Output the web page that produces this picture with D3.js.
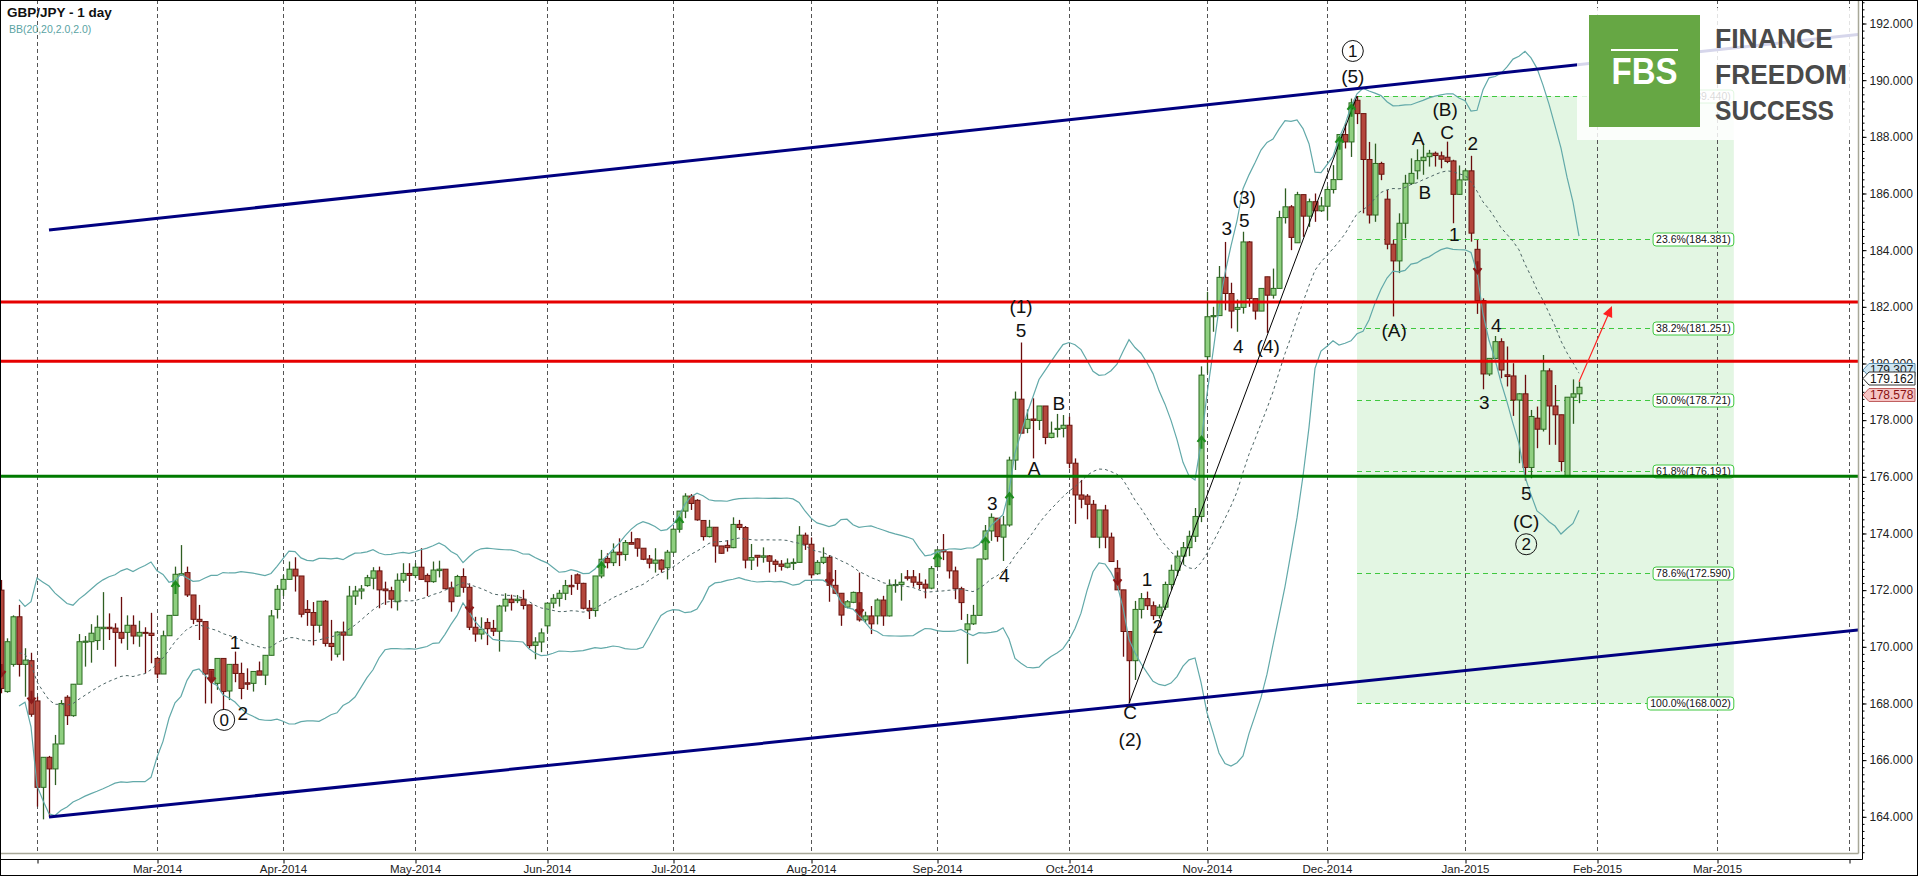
<!DOCTYPE html>
<html><head><meta charset="utf-8">
<script src="https://cdn.jsdelivr.net/npm/d3@7"></script>
<style>
body{margin:0;background:#fff;}
svg{display:block;font-family:"Liberation Sans",Arial,sans-serif;}
</style>
</head><body>
<svg id="chart" width="1918" height="876"></svg>
<script>
// ---------------- DATA ----------------
const firstDay = "2014-01-24";
const calendarEnd = "2015-05-01";
const open = [
172.00,168.42,169.38,171.06,169.38,169.51,168.09,165.04,166.10,165.69,
166.57,168.22,167.57,168.68,170.16,170.18,170.22,170.64,170.69,170.66,
170.51,170.51,170.76,170.38,170.51,170.48,169.59,169.04,170.39,171.11,
172.53,172.62,171.83,170.97,170.89,169.20,168.71,169.59,168.44,169.38,
169.06,168.73,168.71,169.15,169.00,169.70,171.32,172.03,172.38,172.74,
172.50,171.32,171.21,170.76,171.61,170.12,169.74,170.52,170.41,171.79,
171.97,172.16,172.42,172.68,172.04,171.98,171.59,172.35,172.59,172.52,
172.81,172.52,172.30,172.69,172.74,172.08,171.79,172.48,172.10,170.69,
170.45,170.86,170.65,170.55,171.44,171.68,171.63,171.68,171.48,170.05,
170.17,170.74,171.54,171.71,171.89,172.17,172.54,172.24,171.36,171.28,
172.50,173.12,172.97,173.34,173.26,173.68,173.81,173.48,173.10,172.95,
173.06,172.79,173.34,174.15,174.79,175.32,175.17,174.46,173.89,174.22,
173.56,173.58,173.50,174.32,174.21,173.06,173.23,173.16,173.21,173.02,
172.92,172.81,172.95,172.98,173.94,173.62,172.58,172.98,173.16,172.17,
171.89,171.40,171.57,171.91,170.95,171.09,171.09,171.65,171.09,172.16,
172.20,172.47,172.47,172.28,172.21,172.07,172.83,173.42,173.35,172.68,
172.05,170.60,170.81,171.11,173.10,174.09,174.54,173.87,174.30,176.59,
178.74,177.71,178.04,177.99,178.50,177.39,177.67,177.71,177.82,176.48,
175.36,175.32,175.03,173.87,174.83,173.87,172.77,172.01,170.54,169.51,
171.32,171.70,171.45,171.10,171.40,172.20,172.70,173.20,173.50,173.90,
174.60,180.24,181.65,181.69,183.04,182.47,181.91,181.98,184.29,182.29,
181.85,183.06,182.41,182.65,185.15,185.53,184.26,185.96,185.20,185.71,
185.39,185.55,186.14,186.49,188.08,187.82,189.29,188.82,187.20,185.24,
187.06,185.80,184.21,183.62,184.95,186.36,186.80,187.16,187.30,187.42,
187.33,187.28,187.15,185.97,186.48,186.80,184.03,182.22,179.63,180.18,
180.77,179.60,179.56,178.71,178.93,176.33,178.07,177.68,179.74,178.50,
178.19,176.01,178.81,178.93];
const high = [
172.36,170.30,171.11,171.48,169.95,169.79,168.24,166.10,166.15,166.89,
168.12,168.29,168.68,170.45,170.38,170.80,171.11,171.93,171.18,170.83,
171.76,171.11,171.11,170.92,170.69,171.20,169.65,170.57,171.11,172.83,
173.59,172.83,171.83,171.48,170.89,169.20,169.59,169.59,169.38,169.83,
169.44,169.24,169.13,169.48,169.70,171.30,172.18,172.54,173.01,173.16,
172.50,171.65,171.58,171.61,171.65,170.95,170.55,170.89,172.15,172.15,
172.18,172.54,172.81,172.83,172.30,172.12,172.59,172.95,172.95,172.95,
173.48,172.59,173.01,173.04,172.74,172.30,172.54,172.77,172.24,171.06,
171.04,171.01,170.95,171.48,171.89,171.84,171.83,172.01,171.48,170.34,
170.65,171.54,171.86,172.01,172.36,172.54,172.59,172.26,171.65,172.50,
173.42,173.30,173.65,173.83,173.77,174.06,173.83,173.48,173.24,173.48,
173.09,173.42,174.18,174.79,175.42,175.39,175.21,174.46,174.48,174.22,
173.56,173.77,174.57,174.48,174.26,173.63,173.24,173.51,173.24,173.09,
173.06,173.12,173.12,174.26,174.03,173.86,173.06,173.51,173.24,172.71,
171.89,171.65,171.95,172.62,171.24,171.44,171.71,171.80,172.38,172.38,
172.60,172.71,172.71,172.60,172.38,172.85,173.42,173.98,173.35,172.83,
172.12,171.16,171.48,173.10,174.30,174.71,174.54,174.62,176.71,179.01,
180.74,178.38,178.77,178.50,178.50,177.95,178.22,178.18,178.12,176.65,
175.89,175.39,175.18,174.83,175.01,174.03,173.06,172.01,170.54,171.62,
171.90,171.95,171.60,171.50,172.30,172.90,173.40,173.70,174.10,174.90,
179.90,182.53,182.00,183.44,184.29,182.85,182.26,184.65,184.32,182.29,
182.65,183.06,183.35,185.39,186.18,185.59,186.06,185.96,185.82,186.00,
185.88,186.26,187.00,188.08,188.47,189.35,189.44,188.82,187.82,187.76,
187.12,186.13,184.36,185.30,186.66,187.24,187.56,187.77,187.54,187.48,
187.48,187.83,187.19,186.99,186.86,187.33,184.36,182.30,180.18,180.97,
180.89,180.60,180.01,178.95,179.60,178.36,178.48,180.30,179.83,179.24,
178.19,178.81,179.44,179.36];
const low = [
168.36,168.38,169.30,168.95,168.24,167.53,164.36,163.91,164.00,165.12,
166.57,167.24,167.53,168.68,169.30,169.44,169.89,169.89,170.24,169.30,
170.12,169.89,170.09,170.00,169.06,169.42,168.89,169.04,170.39,171.11,
172.53,171.76,170.80,170.24,168.00,168.00,168.48,167.77,168.12,168.75,
168.15,168.48,168.42,169.00,168.65,169.70,171.00,171.79,172.36,171.95,
171.04,170.74,170.05,170.50,170.01,169.51,169.63,169.51,170.41,171.48,
171.68,172.12,172.03,171.36,171.48,171.36,171.28,172.26,171.95,172.42,
172.36,171.79,172.26,172.45,172.03,171.24,171.77,171.91,170.59,170.18,
170.26,170.06,170.38,169.83,171.24,171.28,171.54,171.32,169.95,169.56,
169.81,170.50,171.36,171.42,171.65,171.83,172.01,171.32,170.98,171.06,
172.42,172.77,172.85,172.85,173.04,173.62,173.18,173.06,172.77,172.62,
172.62,172.38,173.30,174.03,174.54,174.83,174.45,173.75,173.86,172.97,
173.28,173.36,173.48,174.12,172.77,172.71,172.83,172.97,172.62,172.65,
172.69,172.77,172.71,172.97,173.42,172.42,172.54,172.92,171.59,171.86,
170.74,171.36,171.54,170.89,170.85,170.45,170.79,170.74,171.07,171.91,
171.63,172.34,172.12,172.03,171.71,172.03,172.83,173.06,172.41,171.68,
170.95,169.40,170.77,171.11,173.06,173.74,173.71,173.03,174.24,176.24,
177.54,177.54,176.65,177.65,177.15,177.36,177.39,177.39,176.30,174.34,
174.89,174.50,173.87,173.48,173.48,173.01,172.01,169.65,168.00,168.83,
171.00,171.30,170.95,171.00,171.30,172.00,172.50,172.90,173.20,173.70,
174.40,179.65,181.12,181.69,181.88,181.24,181.12,181.76,182.00,181.55,
181.85,181.08,182.29,182.65,184.94,184.00,184.26,184.47,184.82,185.00,
185.35,185.06,186.00,186.49,187.59,187.29,188.45,185.30,184.94,185.00,
186.47,184.03,181.66,183.19,184.42,186.30,186.50,186.66,186.95,186.95,
186.89,187.07,184.95,185.95,186.46,184.30,181.75,179.09,179.56,180.15,
179.48,179.19,178.15,176.48,175.87,175.95,177.01,177.60,177.13,177.13,
176.19,176.01,177.87,178.60];
const close = [
168.53,170.18,171.06,169.38,169.53,167.62,165.04,166.10,165.69,166.57,
168.00,167.57,168.68,170.18,170.20,170.48,170.69,170.69,170.64,170.51,
170.30,170.76,170.38,170.51,170.48,170.40,169.04,170.39,171.11,172.56,
172.58,171.83,170.97,170.89,169.04,168.89,169.59,168.42,169.38,169.06,
168.53,168.68,169.13,169.00,169.70,171.09,172.03,172.38,172.74,172.50,
171.15,171.21,170.76,171.61,170.12,170.01,170.52,170.41,171.79,171.97,
172.04,172.44,172.68,172.01,171.98,171.68,172.35,172.59,172.52,172.81,
172.38,172.30,172.71,172.74,172.05,171.59,172.48,172.10,170.69,170.45,
170.62,170.64,170.55,171.44,171.68,171.56,171.68,171.46,170.04,170.17,
170.49,171.54,171.71,171.89,172.16,172.12,172.24,171.36,171.28,172.50,
173.09,172.97,173.34,173.25,173.68,173.62,173.48,173.09,172.95,173.06,
172.74,173.34,174.15,174.79,175.32,175.06,174.48,173.89,174.22,173.56,
173.30,173.50,174.32,174.21,173.06,173.15,173.16,173.21,173.02,172.91,
172.84,172.95,172.98,173.94,173.62,172.54,172.98,173.16,172.17,171.89,
171.12,171.59,171.92,170.95,171.09,170.81,171.65,171.09,172.17,172.20,
172.28,172.42,172.28,172.20,172.07,172.76,173.42,173.35,172.68,172.05,
171.56,170.81,171.11,173.10,174.09,174.57,173.89,174.30,176.59,178.74,
177.54,178.03,177.99,178.50,177.39,177.54,177.71,177.82,176.48,175.36,
175.21,175.03,173.87,174.83,173.87,173.01,172.01,170.54,169.51,171.32,
171.70,171.45,171.10,171.40,172.20,172.70,173.20,173.50,173.90,174.60,
179.59,181.65,181.69,183.04,182.47,181.85,181.98,184.29,182.29,181.85,
182.65,182.41,182.65,185.15,185.53,184.45,185.96,185.20,185.71,185.39,
185.56,186.14,186.49,188.08,187.82,189.20,188.82,187.20,185.24,187.06,
186.68,184.21,183.62,184.95,186.36,186.71,187.16,187.28,187.42,187.34,
187.21,187.13,185.97,186.48,186.80,184.60,182.22,179.63,180.18,180.77,
179.77,179.54,178.71,178.93,176.33,178.13,177.68,179.74,178.50,178.19,
176.54,178.81,178.93,179.16];

const bbPeriod = 20, bbDeviations = 2.0;
const monthLabels = ["Mar-2014","Apr-2014","May-2014","Jun-2014","Jul-2014","Aug-2014","Sep-2014",
  "Oct-2014","Nov-2014","Dec-2014","Jan-2015","Feb-2015","Mar-2015"];
const priceTicks = d3.range(164, 193, 2);

const resistanceLevels = [182.17, 180.08];
const supportLevels = [176.02];
const channelUpper = [[8, 184.71], [309.8, 191.62]];   // [bar index, price]
const channelLower = [[8, 163.99], [309.8, 170.60]];
const impulseLine = [[188, 168.002], [226, 189.44]];
const projection = [[263, 179.36], [268.5, 182.03]];

const fibHigh = 189.44, fibLow = 168.002, fibStartBar = 226, fibEndBar = 288.8;
const fibRatios = [0, 0.236, 0.382, 0.5, 0.618, 0.786, 1];

const upSignals = [[29,172.08],[100,172.76],[113,174.34],[156,173.06],[164,173.63],[168,175.21],[200,177.2],[223,187.76],[225,188.92]];
const downSignals = [[0,169.18],[5,168.24],[35,168.95],[78,171.45],[138,172.42],[143,171.36],[186,172.42],[246,183.4]];

// [bar index, price, text, circled]
const waveLabels = [
 [39,170.17,"1",false],[37.2,167.42,"0",true],[40.3,167.67,"2",false],
 [170,182.03,"(1)",false],[170,181.18,"5",false],[176.3,178.6,"B",false],[172.2,176.3,"A",false],
 [165.2,175.07,"3",false],[167.2,172.53,"4",false],
 [191,172.4,"1",false],[192.8,170.73,"2",false],[188.2,167.7,"C",false],[188.2,166.75,"(2)",false],
 [204.3,184.78,"3",false],[207.2,185.87,"(3)",false],[207.2,185.06,"5",false],[206.2,180.62,"4",false],[211.2,180.62,"(4)",false],
 [225.3,191.03,"1",true],[225.3,190.15,"(5)",false],
 [240.7,188.98,"(B)",false],[236.2,187.96,"A",false],[241,188.17,"C",false],[245.3,187.78,"2",false],
 [237.3,186.05,"B",false],[242.2,184.57,"1",false],[232.2,181.18,"(A)",false],
 [249.2,181.36,"4",false],[247.2,178.64,"3",false],
 [254.2,175.43,"5",false],[254.2,174.45,"(C)",false],[254.2,173.62,"2",true]
];
const priceTags = [["179.307","#cfe6f2","#5a8fb0","#222"],["179.162","#ffffff","#333333","#111"],["178.578","#f6c4c4","#c06060","#8a1010"]];

// ---------------- LAYOUT ----------------
const W = 1918, H = 876;
const plotRight = 1858, axisX = 1862, plotBottom = 853, axisY = 859;
const svg = d3.select("#chart");
const x = d3.scaleLinear().domain([0, 309]).range([1, 1855]);
const y = d3.scaleLinear().domain([164, 192]).range([816.8, 23.5]);

const parseDate = d3.timeParse("%Y-%m-%d");
const calendar = d3.timeDay.range(parseDate(firstDay), parseDate(calendarEnd)).filter(d => d.getDay() % 6 !== 0);
const fmtMonth = d3.timeFormat("%b-%Y");
const monthStarts = [];
calendar.forEach((d, k) => { if (k > 0 && d.getMonth() !== calendar[k-1].getMonth()) monthStarts.push(k); });

svg.append("rect").attr("width", W).attr("height", H).attr("fill", "#fff");
svg.append("defs").append("clipPath").attr("id", "pc").append("rect")
  .attr("x", 0).attr("y", 0).attr("width", plotRight).attr("height", plotBottom);
const plot = svg.append("g").attr("clip-path", "url(#pc)");

// Fibonacci zone
plot.append("rect").attr("x", x(fibStartBar)).attr("y", y(fibHigh))
  .attr("width", x(fibEndBar) - x(fibStartBar)).attr("height", y(fibLow) - y(fibHigh))
  .attr("fill", "#e3f6e3");

// month gridlines
plot.append("g").selectAll("line").data(monthStarts).join("line")
  .attr("x1", k => Math.round(x(k)) + 0.5).attr("x2", k => Math.round(x(k)) + 0.5)
  .attr("y1", 0).attr("y2", plotBottom)
  .attr("stroke", "#555").attr("stroke-width", 1).attr("stroke-dasharray", "4,3");

// Fibonacci levels
const fibG = plot.append("g");
fibRatios.forEach(r => {
  const v = fibHigh - r * (fibHigh - fibLow);
  const yy = Math.round(y(v)) + 0.5;
  const label = (r * 100).toFixed(1) + "%(" + v.toFixed(3) + ")";
  const t = fibG.append("text").attr("x", x(fibEndBar) - 3).attr("y", yy).attr("dy", "0.35em")
    .attr("text-anchor", "end").attr("font-size", 10.5).attr("fill", "#111").text(label);
  const tw = t.node().getComputedTextLength();
  const bx = x(fibEndBar) - tw - 6;
  fibG.insert("rect", "text").attr("x", bx).attr("y", yy - 6.5).attr("width", tw + 6).attr("height", 13)
    .attr("rx", 3).attr("fill", "#fff").attr("stroke", "#3fc83f").attr("stroke-width", 1);
  fibG.insert("line", "rect").attr("x1", x(fibStartBar)).attr("x2", bx).attr("y1", yy).attr("y2", yy)
    .attr("stroke", "#3fc83f").attr("stroke-width", 1).attr("stroke-dasharray", "5,4");
});

// candles
const idx = d3.range(close.length);
const cg = plot.append("g");
idx.forEach(k => {
  const o = open[k], c = close[k];
  const h = Math.max(high[k], o, c), l = Math.min(low[k], o, c);
  const up = c >= o;
  const cx = Math.round(x(k));
  cg.append("line").attr("x1", cx + 0.5).attr("x2", cx + 0.5).attr("y1", y(h)).attr("y2", y(l))
    .attr("stroke", up ? "#2f5e22" : "#6a0c0c").attr("stroke-width", 1.3);
  const y0 = Math.min(y(o), y(c)), hh = Math.max(1, Math.abs(y(o) - y(c)));
  cg.append("rect").attr("x", cx - 2).attr("y", y0).attr("width", 5).attr("height", hh)
    .attr("fill", up ? "#8fcf80" : "#b4473c").attr("stroke", up ? "#2b6b20" : "#6a1510").attr("stroke-width", 1);
});

// Bollinger bands
const bb = idx.map(k => {
  const w = close.slice(Math.max(0, k - bbPeriod + 1), k + 1);
  const m = d3.mean(w), sd = Math.sqrt(d3.mean(w, v => (v - m) * (v - m)));
  return {k, m, u: m + bbDeviations * sd, l: m - bbDeviations * sd};
}).filter(d => d.k >= 3);
const line = acc => d3.line().x(d => x(d.k)).y(d => y(acc(d))).curve(d3.curveLinear);
plot.append("path").datum(bb).attr("d", line(d => d.u)).attr("fill", "none").attr("stroke", "#62a9a9").attr("stroke-width", 1.2);
plot.append("path").datum(bb).attr("d", line(d => d.l)).attr("fill", "none").attr("stroke", "#62a9a9").attr("stroke-width", 1.2);
plot.append("path").datum(bb).attr("d", line(d => d.m)).attr("fill", "none").attr("stroke", "#4d6565").attr("stroke-width", 1).attr("stroke-dasharray", "3,3");

// horizontal levels
resistanceLevels.forEach(v => plot.append("line").attr("x1", 0).attr("x2", plotRight).attr("y1", y(v)).attr("y2", y(v))
  .attr("stroke", "#e60000").attr("stroke-width", 3));
supportLevels.forEach(v => plot.append("line").attr("x1", 0).attr("x2", plotRight).attr("y1", y(v)).attr("y2", y(v))
  .attr("stroke", "#007a00").attr("stroke-width", 3));

// channel
[channelUpper, channelLower].forEach(c => plot.append("line")
  .attr("x1", x(c[0][0])).attr("y1", y(c[0][1])).attr("x2", x(c[1][0])).attr("y2", y(c[1][1]))
  .attr("stroke", "#000080").attr("stroke-width", 3));

// impulse line
plot.append("line").attr("x1", x(impulseLine[0][0])).attr("y1", y(impulseLine[0][1]))
  .attr("x2", x(impulseLine[1][0])).attr("y2", y(impulseLine[1][1])).attr("stroke", "#000").attr("stroke-width", 1);

// signal arrows
upSignals.forEach(([k, v]) => {
  const cx = Math.round(x(k)) + 0.5, cy = y(v);
  plot.append("path").attr("d", `M${cx},${cy+6}L${cx},${cy-5}M${cx-4},${cy-1}L${cx},${cy-6}L${cx+4},${cy-1}`)
    .attr("fill", "none").attr("stroke", "#1e8c1e").attr("stroke-width", 2.2);
});
downSignals.forEach(([k, v]) => {
  const cx = Math.round(x(k)) + 0.5, cy = y(v);
  plot.append("path").attr("d", `M${cx},${cy-6}L${cx},${cy+5}M${cx-4},${cy+1}L${cx},${cy+6}L${cx+4},${cy+1}`)
    .attr("fill", "none").attr("stroke", "#8b1a1a").attr("stroke-width", 2.2);
});

// wave labels
waveLabels.forEach(([k, v, t, circ]) => {
  const cx = x(k), cy = y(v);
  if (circ) {
    plot.append("circle").attr("cx", cx).attr("cy", cy).attr("r", 10.5).attr("fill", "none").attr("stroke", "#111").attr("stroke-width", 1);
    plot.append("text").attr("x", cx).attr("y", cy).attr("dy", "0.36em").attr("text-anchor", "middle")
      .attr("font-size", 17).attr("fill", "#111").text(t);
  } else {
    plot.append("text").attr("x", cx).attr("y", cy).attr("dy", "0.36em").attr("text-anchor", "middle")
      .attr("font-size", 19).attr("fill", "#111").text(t);
  }
});

// projection arrow
{
  const [a, b] = projection;
  const x1 = x(a[0]), y1 = y(a[1]), x2 = x(b[0]), y2 = y(b[1]);
  const ang = Math.atan2(y2 - y1, x2 - x1);
  plot.append("line").attr("x1", x1).attr("y1", y1).attr("x2", x2 - 6 * Math.cos(ang)).attr("y2", y2 - 6 * Math.sin(ang))
    .attr("stroke", "#ff2020").attr("stroke-width", 1.2);
  const hl = 11, hw = 5;
  const bxp = x2 - hl * Math.cos(ang), byp = y2 - hl * Math.sin(ang);
  plot.append("path").attr("d", `M${x2},${y2}L${bxp + hw*Math.sin(ang)},${byp - hw*Math.cos(ang)}L${bxp - hw*Math.sin(ang)},${byp + hw*Math.cos(ang)}Z`)
    .attr("fill", "#ff2020");
}

// logo panel
plot.append("rect").attr("x", 1577).attr("y", 8).attr("width", 290).attr("height", 132).attr("fill", "#fff").attr("opacity", 0.84);
svg.append("rect").attr("x", 1589).attr("y", 15).attr("width", 111).attr("height", 112).attr("fill", "#66a744");
svg.append("text").attr("x", 1644.5).attr("y", 84).attr("text-anchor", "middle").attr("font-size", 36)
  .attr("font-weight", "bold").attr("fill", "#fff").attr("textLength", 66).attr("lengthAdjust", "spacingAndGlyphs").text("FBS");
svg.append("line").attr("x1", 1611).attr("x2", 1678).attr("y1", 50).attr("y2", 50).attr("stroke", "#fff").attr("stroke-width", 2);
["FINANCE", "FREEDOM", "SUCCESS"].forEach((t, i) => svg.append("text").attr("x", 1715).attr("y", 48 + i * 36)
  .attr("font-size", 27).attr("font-weight", "bold").attr("fill", "#4a4a4a")
  .attr("textLength", i === 1 ? 132 : (i === 0 ? 118 : 119)).attr("lengthAdjust", "spacingAndGlyphs").text(t));

// frame & axes
svg.append("line").attr("x1", plotRight + 0.5).attr("x2", plotRight + 0.5).attr("y1", 0).attr("y2", plotBottom + 0.5).attr("stroke", "#a8a898").attr("stroke-width", 1.5);
svg.append("line").attr("x1", 0).attr("x2", plotRight + 0.5).attr("y1", plotBottom + 0.5).attr("y2", plotBottom + 0.5).attr("stroke", "#a8a898").attr("stroke-width", 1.5);
svg.append("line").attr("x1", axisX + 0.5).attr("x2", axisX + 0.5).attr("y1", 0).attr("y2", axisY + 0.5).attr("stroke", "#000");
svg.append("line").attr("x1", 0).attr("x2", axisX + 0.5).attr("y1", axisY + 0.5).attr("y2", axisY + 0.5).attr("stroke", "#000");

const yMinor = svg.append("g").attr("transform", `translate(${axisX + 0.5},0)`)
  .call(d3.axisRight(y).tickValues(d3.range(162.75, 192.9, 0.25)).tickSize(2).tickFormat(""));
yMinor.select(".domain").remove();
const yAx = svg.append("g").attr("transform", `translate(${axisX + 0.5},0)`)
  .call(d3.axisRight(y).tickValues(priceTicks).tickSize(4).tickPadding(3).tickFormat(d3.format(".3f")));
yAx.select(".domain").remove();
yAx.selectAll("text").attr("font-size", 12).attr("fill", "#222").attr("font-family", "Liberation Sans, Arial");

const xAx = svg.append("g").attr("transform", `translate(0,${axisY + 0.5})`)
  .call(d3.axisBottom(x).tickValues(monthStarts).tickSize(4).tickPadding(1)
    .tickFormat(k => { const s = fmtMonth(calendar[k]); return monthLabels.includes(s) ? s : ""; }));
xAx.select(".domain").remove();
xAx.selectAll("text").attr("font-size", 11.5).attr("fill", "#222").attr("font-family", "Liberation Sans, Arial");
xAx.selectAll(".tick line").attr("transform", "translate(0.5,0)");

// price tags
priceTags.forEach(([t, fill, stroke, tc], i) => {
  const cy = [370, 378.5, 395][i];
  svg.append("path").attr("d", `M${axisX + 1},${cy}L${axisX + 7},${cy - 6.5}L1915,${cy - 6.5}L1915,${cy + 6.5}L${axisX + 7},${cy + 6.5}Z`)
    .attr("fill", fill).attr("stroke", stroke).attr("stroke-width", 1);
  svg.append("text").attr("x", axisX + 8).attr("y", cy).attr("dy", "0.36em").attr("font-size", 12).attr("fill", tc).text(t);
});

// title & legend
svg.append("text").attr("x", 7).attr("y", 17).attr("font-size", 13.5).attr("font-weight", "bold").attr("fill", "#111").text("GBP/JPY - 1 day");
svg.append("text").attr("x", 9).attr("y", 33).attr("font-size", 10.5).attr("fill", "#5aa3a3").text("BB(20,20,2.0,2.0)");

svg.append("rect").attr("x", 0.5).attr("y", 0.5).attr("width", W - 1).attr("height", H - 1).attr("fill", "none").attr("stroke", "#000");
</script>
</body></html>
